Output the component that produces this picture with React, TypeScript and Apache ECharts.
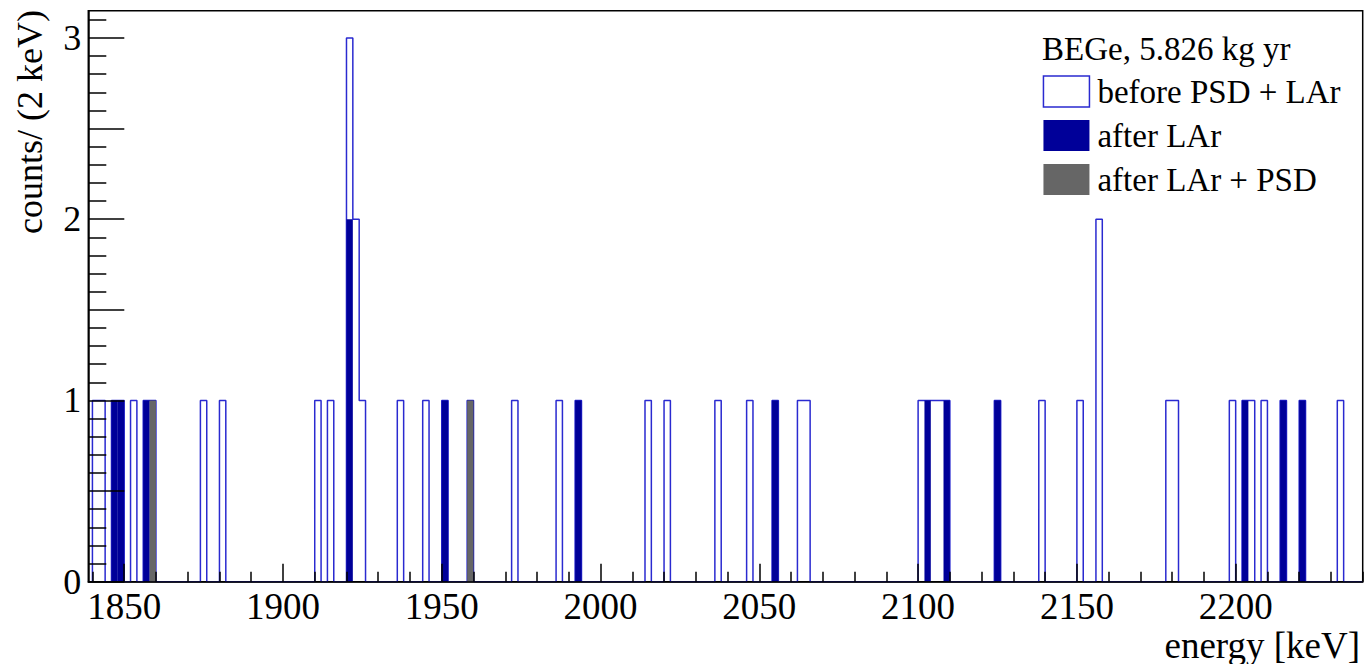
import React, { useEffect, useRef } from "react";
import * as echarts from "echarts";

// ---- data (2 keV bins, value = left edge of bin in keV) ----
const BIN_WIDTH = 2;
const HIST_START = 1840;
const HIST_END = 2240;

const beforeBins = [1840, 1842, 1846, 1848, 1852, 1856, 1858, 1874, 1880, 1910, 1914, 1920, 1922, 1924, 1936, 1944, 1950, 1958, 1972, 1986, 1992, 2014, 2020, 2036, 2046, 2054, 2062, 2064, 2100, 2102, 2104, 2106, 2108, 2124, 2138, 2150, 2156, 2178, 2180, 2198, 2202, 2204, 2208, 2214, 2220, 2232];
const beforeCounts = [1, 1, 1, 1, 1, 1, 1, 1, 1, 1, 1, 3, 2, 1, 1, 1, 1, 1, 1, 1, 1, 1, 1, 1, 1, 1, 1, 1, 1, 1, 1, 1, 1, 1, 1, 1, 2, 1, 1, 1, 1, 1, 1, 1, 1, 1];

const larBins = [1846, 1848, 1856, 1858, 1920, 1950, 1958, 1992, 2054, 2102, 2108, 2124, 2202, 2214, 2220];
const larCounts = [1, 1, 1, 1, 2, 1, 1, 1, 1, 1, 1, 1, 1, 1, 1];

const psdBins = [1858, 1958];
const psdCounts = [1, 1];

const xTickLabels = [1850, 1900, 1950, 2000, 2050, 2100, 2150, 2200];
const yTickLabels = [0, 1, 2, 3];

const X_MIN = 1838.7;
const X_MAX = 2240;
const Y_MAX = 3.15;

const FONT = "'Liberation Serif', 'Times New Roman', 'DejaVu Serif', serif";
const HOLLOW_COLOR = "#2a2ad0";
const LAR_COLOR = "#000099";
const PSD_COLOR = "#666666";

function buildOutline(bins: number[], counts: number[]) {
  const map = new Map<number, number>();
  bins.forEach((b, i) => map.set(b, counts[i]));
  const pts: number[][] = [[HIST_START, 0]];
  for (let e = HIST_START; e < HIST_END; e += BIN_WIDTH) {
    const c = map.get(e) || 0;
    pts.push([e, c]);
    pts.push([e + BIN_WIDTH, c]);
  }
  pts.push([HIST_END, 0]);
  return pts;
}

function filledSeries(name: string, bins: number[], counts: number[], color: string, z: number) {
  return {
    type: "custom",
    name,
    z,
    itemStyle: { color },
    encode: { x: 0, y: 1 },
    data: bins.map((b, i) => [b, counts[i]]),
    renderItem: (_params: any, api: any) => {
      const x0 = api.value(0);
      const c = api.value(1);
      const pTop = api.coord([x0, c]);
      const pBot = api.coord([x0 + BIN_WIDTH, 0]);
      return {
        type: "rect",
        shape: { x: pTop[0], y: pTop[1], width: pBot[0] - pTop[0], height: pBot[1] - pTop[1] },
        style: { fill: color },
      };
    },
  };
}

export default function App() {
  const ref = useRef<HTMLDivElement>(null);
  useEffect(() => {
    if (!ref.current) return;
    const chart = echarts.init(ref.current, null, { renderer: "svg" });

    const minorX: number[] = [];
    for (let v = 1840; v <= 2240; v += 10) if (v % 50 !== 0) minorX.push(v);
    const yMid: number[] = [0, 0.5, 1, 1.5, 2, 2.5, 3];
    const yMinor: number[] = [];
    for (let i = 1; i <= 31; i++) if (i % 5 !== 0) yMinor.push(i / 10);

    const tickStyle = { color: "#000", width: 1.5 };

    chart.setOption({
      animation: false,
      grid: {
        left: 88.3,
        right: 4.3,
        top: 10.7,
        bottom: 82.3,
        show: true,
        borderColor: "#000",
        borderWidth: 1.5,
        backgroundColor: "transparent",
      },
      xAxis: [
        {
          type: "value",
          min: X_MIN,
          max: X_MAX,
          position: "bottom",
          z: 10,
          axisLine: { show: true, onZero: false, lineStyle: { color: "#000", width: 1.5 } },
          axisTick: { show: true, inside: true, length: 18, customValues: xTickLabels, lineStyle: tickStyle },
          axisLabel: {
            customValues: xTickLabels,
            formatter: (v: number) => String(v),
            fontSize: 37,
            lineHeight: 30,
            fontFamily: FONT,
            color: "#000",
            margin: 10,
          },
          splitLine: { show: false },
        },
        {
          type: "value",
          min: X_MIN,
          max: X_MAX,
          position: "bottom",
          z: 10,
          axisLine: { show: false },
          axisTick: { show: true, inside: true, length: 10, customValues: minorX, lineStyle: tickStyle },
          axisLabel: { show: false },
          splitLine: { show: false },
        },
      ],
      yAxis: [
        {
          type: "value",
          min: 0,
          max: Y_MAX,
          position: "left",
          z: 10,
          axisLine: { show: true, onZero: false, lineStyle: { color: "#000", width: 1.5 } },
          axisTick: { show: true, inside: true, length: 36, customValues: yMid, lineStyle: tickStyle },
          axisLabel: {
            customValues: yTickLabels,
            formatter: (v: number) => String(v),
            fontSize: 36,
            fontFamily: FONT,
            color: "#000",
            margin: 7,
          },
          splitLine: { show: false },
        },
        {
          type: "value",
          min: 0,
          max: Y_MAX,
          position: "left",
          z: 10,
          axisLine: { show: false },
          axisTick: { show: true, inside: true, length: 18, customValues: yMinor, lineStyle: tickStyle },
          axisLabel: { show: false },
          splitLine: { show: false },
        },
      ],
      legend: {
        orient: "vertical",
        left: 1042.7,
        top: 75,
        padding: 0,
        itemWidth: 46,
        itemHeight: 31,
        itemGap: 11,
        selectedMode: false,
        textStyle: { fontSize: 33, fontFamily: FONT, color: "#000", lineHeight: 31, padding: [0, 0, 0, 3] },
        data: [
          {
            name: "before PSD + LAr",
            icon: "rect",
            itemStyle: { color: "#ffffff", borderColor: HOLLOW_COLOR, borderWidth: 1.5 },
          },
          { name: "after LAr", icon: "rect", itemStyle: { color: LAR_COLOR } },
          { name: "after LAr + PSD", icon: "rect", itemStyle: { color: PSD_COLOR } },
        ],
      },
      graphic: [
        {
          type: "text",
          left: 1042,
          top: 32,
          style: { text: "BEGe, 5.826 kg yr", fontSize: 33, fontFamily: FONT, fill: "#000" },
        },
        {
          type: "text",
          x: 1360,
          y: 645,
          style: {
            text: "energy [keV]",
            fontSize: 37,
            lineHeight: 34,
            fontFamily: FONT,
            fill: "#000",
            align: "right",
            verticalAlign: "middle",
          },
        },
        {
          type: "text",
          x: 30,
          y: 10,
          rotation: Math.PI / 2,
          style: {
            text: "counts/ (2 keV)",
            fontSize: 36,
            fontFamily: FONT,
            fill: "#000",
            align: "right",
            verticalAlign: "middle",
          },
        },
      ],
      series: [
        {
          type: "line",
          name: "before PSD + LAr",
          z: 2,
          data: buildOutline(beforeBins, beforeCounts),
          showSymbol: false,
          symbol: "none",
          itemStyle: { color: HOLLOW_COLOR },
          lineStyle: { color: HOLLOW_COLOR, width: 1.5 },
        },
        filledSeries("after LAr", larBins, larCounts, LAR_COLOR, 3),
        filledSeries("after LAr + PSD", psdBins, psdCounts, PSD_COLOR, 4),
      ],
    });
    return () => chart.dispose();
  }, []);
  return <div ref={ref} style={{ position: "absolute", left: 0, top: 0, width: 1367, height: 664 }} />;
}
